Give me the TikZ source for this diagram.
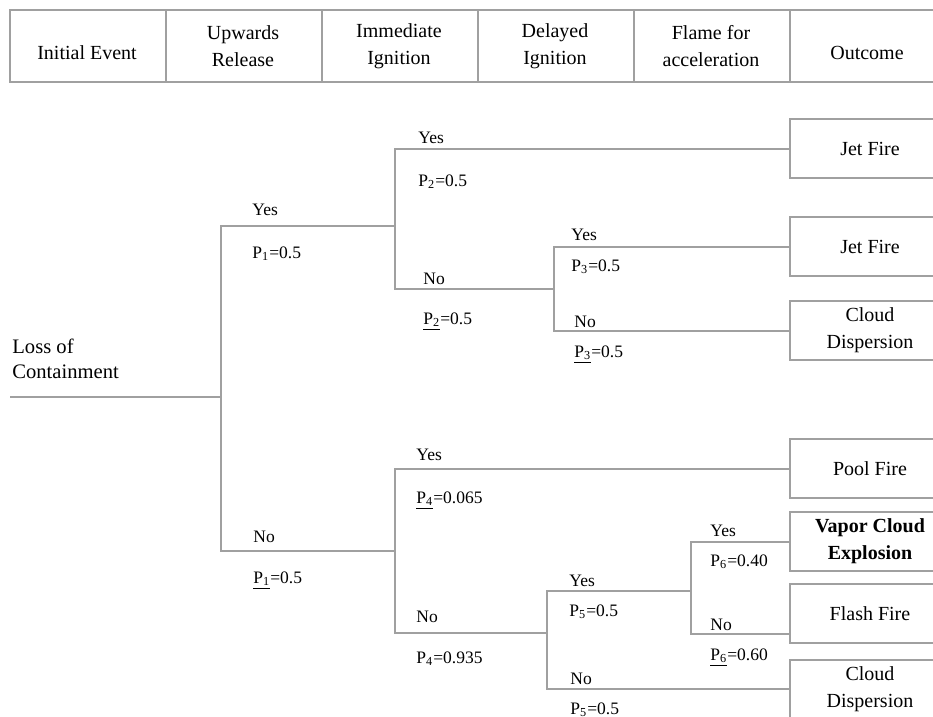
\documentclass[tikz,border=0pt]{standalone}
\usepackage{fontspec}
\setmainfont{Liberation Serif}
\usetikzlibrary{positioning}

\definecolor{linegray}{RGB}{160,160,160}

\tikzset{
  cell/.style={draw=linegray, line width=1pt, anchor=north west,
    minimum width=78pt, minimum height=36pt, inner sep=0pt},
  headtext/.style={align=center, font=\fontsize{10}{13.5}\selectfont},
  outcome/.style={draw=linegray, line width=1pt, anchor=west,
    minimum width=80pt, minimum height=29.5pt, inner sep=0pt,
    align=center, font=\fontsize{10}{13.5}\selectfont},
  lbl/.style={anchor=west, inner sep=0pt, font=\fontsize{8.75}{10}\selectfont},
  branch/.style={draw=linegray, line width=1pt},
  elbow/.style={to path={|- (\tikztotarget)}}
}

\begin{document}
\begin{tikzpicture}[x=0.5pt, y=-0.5pt]
    \path[use as bounding box, clip] (0,0) rectangle (933,717);

    \foreach \x [count=\i] in {9,165,321,477,633,789} {\node[cell] (head\i) at (\x,9) {};};
    \foreach \x/\y/\t [count=\i] in {87/53/Initial Event, 243/46/Upwards\\Release,
        399/46/Immediate\\Ignition, 555/46/Delayed\\Ignition,
        711/46/Flame for\\acceleration, 867/53/Outcome} {\node[headtext] (title\i) at (\x,\y) {\t};};

    \node[anchor=west, align=left, inner sep=0pt, font=\fontsize{10.3}{12.5}\selectfont]
      (loss) at (12,359) {Loss of\\Containment};

    \node[outcome] (jet1)   at (789,149)   {Jet Fire};
    \node[outcome] (jet2)   at (789,247)   {Jet Fire};
    \node[outcome] (cloud1) at (789,330.5) {Cloud\\Dispersion};
    \node[outcome] (pool)   at (789,468.5) {Pool Fire};
    \node[outcome, font=\fontsize{10}{13.5}\selectfont\bfseries]
                   (vce)    at (789,541.5) {Vapor Cloud\\Explosion};
    \node[outcome] (flash)  at (789,613.5) {Flash Fire};
    \node[outcome] (cloud2) at (789,689)   {Cloud\\Dispersion};

    \coordinate (start)   at (10,397);
    \coordinate (fork1)   at (221,397);
    \coordinate (fork2)   at (395,226);
    \coordinate (fork3)   at (554,289);
    \coordinate (fork4)   at (395,551);
    \coordinate (fork5)   at (547,633);
    \coordinate (fork6)   at (691,591);
    \coordinate (flashin) at (789,634);

    \path[branch] (start) edge        (fork1)
                  (fork1) edge[elbow] (fork2)
                  (fork1) edge[elbow] (fork4)
                  (fork2) edge[elbow] (jet1.west)
                  (fork2) edge[elbow] (fork3)
                  (fork3) edge[elbow] (jet2.west)
                  (fork3) edge[elbow] (cloud1.west)
                  (fork4) edge[elbow] (pool.west)
                  (fork4) edge[elbow] (fork5)
                  (fork5) edge[elbow] (fork6)
                  (fork5) edge[elbow] (cloud2.west)
                  (fork6) edge[elbow] (vce.west)
                  (fork6) edge[elbow] (flashin);

    \foreach \x/\y/\t [count=\i] in {
        252/210/Yes, 252/254/P\textsubscript{1}=0.5,
        253/537/No,  253/581/\underline{P\textsubscript{1}}=0.5,
        418/138/Yes, 418/182/P\textsubscript{2}=0.5,
        423/279/No,  423/322/\underline{P\textsubscript{2}}=0.5,
        571/235/Yes, 571/267/P\textsubscript{3}=0.5,
        574/322/No,  574/355/\underline{P\textsubscript{3}}=0.5,
        416/455/Yes, 416/501/\underline{P\textsubscript{4}}=0.065,
        416/617/No,  416/659/P\textsubscript{4}=0.935,
        569/581/Yes, 569/612/P\textsubscript{5}=0.5,
        570/679/No,  570/710/P\textsubscript{5}=0.5,
        710/531/Yes, 710/562/P\textsubscript{6}=0.40,
        710/625/No,  710/658/\underline{P\textsubscript{6}}=0.60} {\node[lbl] (label\i) at (\x,\y) {\t};};
\end{tikzpicture}
\end{document}
